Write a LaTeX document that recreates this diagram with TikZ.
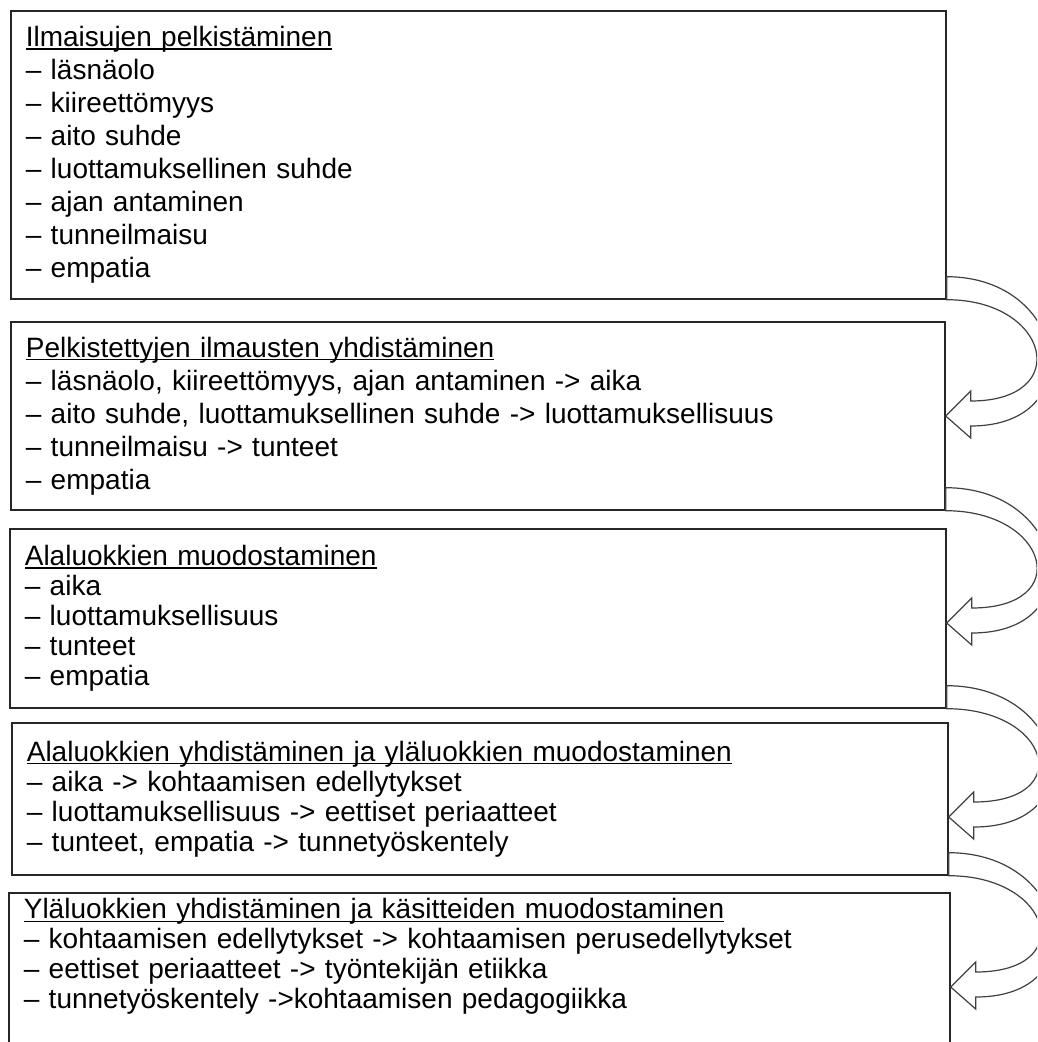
\documentclass[tikz,border=0pt]{standalone}
\usepackage{fontspec}
\setmainfont{Liberation Sans}
\usetikzlibrary{calc}
\newcommand{\otsikko}[1]{\setbox0\hbox{#1}\rlap{\rule[-3pt]{\wd0}{1.1pt}}\box0}

\begin{document}
\begin{tikzpicture}[
        x=1pt, y=-1pt,
        box/.style={rectangle,draw=black!85,line width=1.7pt,anchor=north west,align=left,inner xsep=15pt,inner ysep=4pt,font=\fontsize{28}{33}\selectfont},
        tightbox/.style={box,font=\fontsize{28}{30}\selectfont},
        bendarrow/.style={draw=black!75,line width=1.2pt,fill=white,line join=miter},
        ]
        \clip (0,0) rectangle (1037,1042);
        
        % Vaihe 1 : pelkistäminen
        \node[box,text width=905pt,minimum height=288pt] (ilm) at (10,10) {\otsikko{Ilmaisujen pelkistäminen}\\
            – läsnäolo\\
            – kiireettömyys\\
            – aito suhde\\
            – luottamuksellinen suhde\\
            – ajan antaminen\\
            – tunneilmaisu\\
            – empatia};
        
        % Vaihe 2 : yhdistäminen
        \node[box,text width=904pt,minimum height=188pt] (pelk) at (10,321) {\otsikko{Pelkistettyjen ilmausten yhdistäminen}\\
            – läsnäolo, kiireettömyys, ajan antaminen -> aika\\
            – aito suhde, luottamuksellinen suhde -> luottamuksellisuus\\
            – tunneilmaisu -> tunteet\\
            – empatia};
        
        % Vaihe 3 : alaluokat
        \node[tightbox,text width=906pt,minimum height=179pt] (ala) at (9,528) {\otsikko{Alaluokkien muodostaminen}\\
            – aika\\
            – luottamuksellisuus\\
            – tunteet\\
            – empatia};
        
        % Vaihe 4 : yläluokat
        \node[tightbox,text width=906pt,minimum height=152pt] (yla) at (11,722) {\otsikko{Alaluokkien yhdistäminen ja yläluokkien muodostaminen}\\
            – aika -> kohtaamisen edellytykset\\
            – luottamuksellisuus -> eettiset periaatteet\\
            – tunteet, empatia -> tunnetyöskentely};
        
        % Vaihe 5 : käsitteet
        \node[tightbox,text width=911pt,inner ysep=5.5pt] (kas) at (8,892) {\otsikko{Yläluokkien yhdistäminen ja käsitteiden muodostaminen}\\
            – kohtaamisen edellytykset -> kohtaamisen perusedellytykset\\
            – eettiset periaatteet -> työntekijän etiikka\\
            – tunnetyöskentely ->kohtaamisen pedagogiikka\rule[-90pt]{0pt}{0pt}};
        
        % Kaarinuolet vaiheesta seuraavaan
        \foreach \a/\b in {ilm/pelk, pelk/ala, ala/yla, yla/kas} {
            \draw[bendarrow] ($(\a.south east)+(0,-23)$) .. controls +(121,0) and +(121,0) .. ($(\b.north east)+(25,105)$)
                -- ++(0,12) -- ($(\b.north east)+(0,95)$) -- ++(25,-25) -- ++(0,10)
                .. controls +(103,0) and +(103,0) .. (\a.south east) -- cycle;
        }
    \end{tikzpicture}
\end{document}
